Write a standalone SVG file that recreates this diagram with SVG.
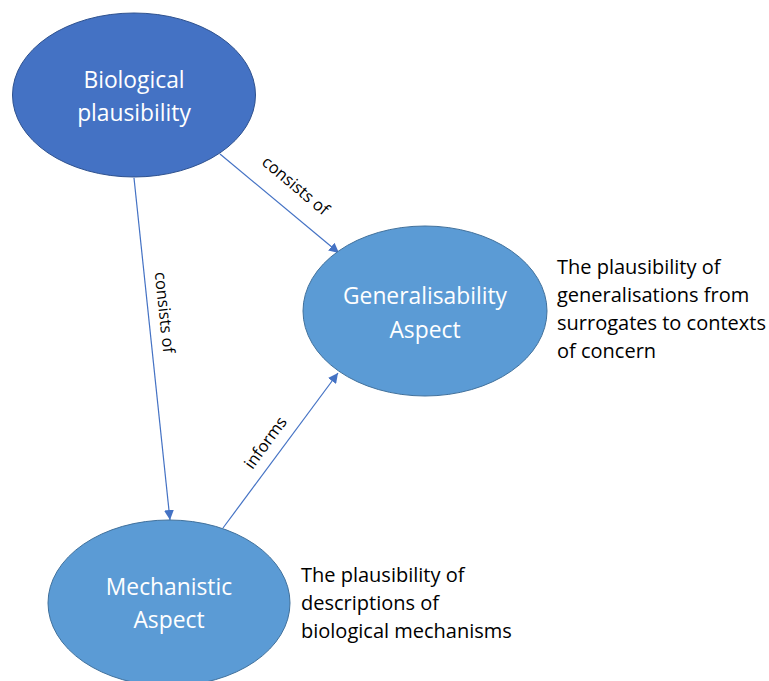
<svg xmlns="http://www.w3.org/2000/svg" width="769" height="681" viewBox="0 0 769 681">
<defs>
<style>
.node1{fill:#4472C4;stroke:#2F528F;stroke-width:1}
.node2{fill:#5B9BD5;stroke:#41719C;stroke-width:1}
.nt{font-family:"Open Sans","Liberation Sans",sans-serif;font-size:22.8px;fill:#FFFFFF;text-anchor:middle}
.desc{font-family:"Open Sans","Liberation Sans",sans-serif;font-size:20px;fill:#000000}
.lbl{font-family:"Open Sans","Liberation Sans",sans-serif;font-size:16.5px;fill:#000000;text-anchor:middle}
.conn{stroke:#4472C4;stroke-width:1.2;fill:none;marker-end:url(#arr)}
</style>
<marker id="arr" viewBox="0 0 10 10" refX="10" refY="5" markerWidth="10" markerHeight="10" markerUnits="userSpaceOnUse" orient="auto">
<path d="M0,0 L10,5 L0,10 z" fill="#4472C4"/>
</marker>
</defs>
<rect width="769" height="681" fill="#FFFFFF"/>
<g id="connectors">
<line class="conn" x1="220" y1="154" x2="339" y2="253"/>
<line class="conn" x1="134" y1="178" x2="170" y2="520"/>
<line class="conn" x1="223" y1="528" x2="338" y2="373"/>
<text class="lbl" transform="translate(292,190) rotate(40)">consists of</text>
<text class="lbl" transform="translate(159,313) rotate(84)">consists of</text>
<text class="lbl" transform="translate(270,446) rotate(-54)">informs</text>
</g>
<g id="bio">
<ellipse class="node1" cx="134" cy="95" rx="121.5" ry="82"/>
<text class="nt" x="134" y="88">Biological</text>
<text class="nt" x="134" y="121">plausibility</text>
</g>
<g id="gen">
<ellipse class="node2" cx="425" cy="311" rx="122" ry="85"/>
<text class="nt" x="425" y="304">Generalisability</text>
<text class="nt" x="425" y="338">Aspect</text>
</g>
<g id="mech">
<ellipse class="node2" cx="169" cy="603" rx="121" ry="83"/>
<text class="nt" x="169" y="595">Mechanistic</text>
<text class="nt" x="169" y="628">Aspect</text>
</g>
<g id="gen-desc">
<text class="desc" x="557" y="274">The plausibility of</text>
<text class="desc" x="557" y="302">generalisations from</text>
<text class="desc" x="557" y="330">surrogates to contexts</text>
<text class="desc" x="557" y="358">of concern</text>
</g>
<g id="mech-desc">
<text class="desc" x="301" y="582">The plausibility of</text>
<text class="desc" x="301" y="610">descriptions of</text>
<text class="desc" x="301" y="638">biological mechanisms</text>
</g>
</svg>
